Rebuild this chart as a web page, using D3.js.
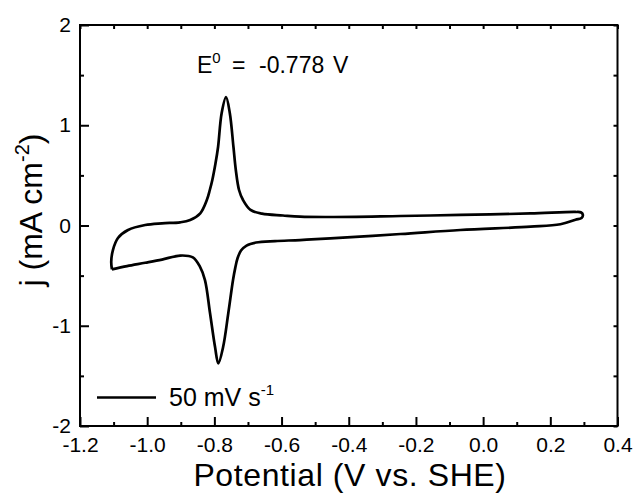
<!DOCTYPE html>
<html>
<head>
<meta charset="utf-8">
<script src="https://cdn.jsdelivr.net/npm/d3@7"></script>
<style>
  html, body { margin: 0; padding: 0; background: #fff; }
  svg { display: block; font-family: "Liberation Sans", Arial, sans-serif; }
</style>
</head>
<body>
<svg id="chart" width="635" height="493"></svg>
<script>
// Cyclic voltammogram, 50 mV/s scan
// Forward (anodic) sweep, from the negative vertex to the positive vertex
const anodicV = [-1.105, -1.107, -1.102, -1.087, -1.057, -1.006, -0.956, -0.902, -0.872, -0.842,
                 -0.8225, -0.8136, -0.8061, -0.7966, -0.7889, -0.7784, -0.7653, -0.754, -0.7433, -0.7362,
                 -0.7266, -0.7147, -0.6924, -0.6582, -0.5957, -0.545, -0.455, -0.246, -0.068, 0.141,
                 0.275, 0.292, 0.297];
const anodicJ = [-0.437, -0.36, -0.245, -0.125, -0.045, 0.005, 0.022, 0.032, 0.055, 0.122,
                 0.254, 0.354, 0.454, 0.62, 0.786, 1.12, 1.28, 1.12, 0.786, 0.554,
                 0.354, 0.254, 0.155, 0.118, 0.1, 0.088, 0.085, 0.095, 0.105, 0.12,
                 0.135, 0.13, 0.105];
// Reverse (cathodic) sweep, back to the negative vertex
const cathodicV = [0.293, 0.275, 0.23, 0.141, -0.068, -0.246, -0.455, -0.545, -0.6195, -0.676,
                   -0.7043, -0.7207, -0.7308, -0.7377, -0.7445, -0.7585, -0.774, -0.7883, -0.798, -0.813,
                   -0.828, -0.843, -0.864, -0.902, -0.956, -1.006, -1.06, -1.105];
const cathodicJ = [0.075, 0.057, 0.012, -0.012, -0.045, -0.085, -0.128, -0.145, -0.155, -0.17,
                   -0.2, -0.25, -0.324, -0.42, -0.544, -0.873, -1.212, -1.375, -1.212, -0.873,
                   -0.544, -0.411, -0.318, -0.30, -0.34, -0.372, -0.405, -0.437];

const xTicks = [-1.2, -1.0, -0.8, -0.6, -0.4, -0.2, 0.0, 0.2, 0.4];
const xTickLabels = ["-1.2", "-1.0", "-0.8", "-0.6", "-0.4", "-0.2", "0.0", "0.2", "0.4"];
const xMinorTicks = [-1.1, -0.9, -0.7, -0.5, -0.3, -0.1, 0.1, 0.3];
const yTicks = [2, 1, 0, -1, -2];
const yTickLabels = ["2", "1", "0", "-1", "-2"];
const yMinorTicks = [1.5, 0.5, -0.5, -1.5];

const svg = d3.select("#chart");
const plotLeft = 80, plotRight = 617.5, plotTop = 25, plotBottom = 426;

const x = d3.scaleLinear().domain([-1.2, 0.4]).range([plotLeft, plotRight]);
const y = d3.scaleLinear().domain([-2, 2]).range([plotBottom, plotTop]);

const tickFont = 21;

function styleAxis(g) {
  g.select(".domain").remove();
  g.selectAll(".tick line").attr("stroke", "#000").attr("stroke-width", 2);
  g.selectAll(".tick text").attr("fill", "#000").attr("font-size", tickFont)
    .attr("font-family", "Liberation Sans, Arial, sans-serif");
}

// bottom axis: major + minor ticks pointing inward
svg.append("g").attr("transform", `translate(0,${plotBottom})`)
  .call(d3.axisBottom(x).tickValues(xTicks).tickSize(-9).tickPadding(11)
        .tickFormat((d, i) => xTickLabels[i]))
  .call(styleAxis);
svg.append("g").attr("transform", `translate(0,${plotBottom})`)
  .call(d3.axisBottom(x).tickValues(xMinorTicks).tickSize(-4).tickFormat(""))
  .call(styleAxis);

// left axis
svg.append("g").attr("transform", `translate(${plotLeft},0)`)
  .call(d3.axisLeft(y).tickValues(yTicks).tickSize(-9).tickPadding(9)
        .tickFormat((d, i) => yTickLabels[i]))
  .call(styleAxis);
svg.append("g").attr("transform", `translate(${plotLeft},0)`)
  .call(d3.axisLeft(y).tickValues(yMinorTicks).tickSize(-4).tickFormat(""))
  .call(styleAxis);

// top and right mirror ticks
svg.append("g").attr("transform", `translate(0,${plotTop})`)
  .call(d3.axisTop(x).tickValues(xTicks.concat(xMinorTicks)).tickSize(-4).tickFormat(""))
  .call(styleAxis);
svg.append("g").attr("transform", `translate(${plotRight},0)`)
  .call(d3.axisRight(y).tickValues(yTicks.concat(yMinorTicks)).tickSize(-4).tickFormat(""))
  .call(styleAxis);

// frame
svg.append("rect")
  .attr("x", plotLeft).attr("y", plotTop)
  .attr("width", plotRight - plotLeft).attr("height", plotBottom - plotTop)
  .attr("fill", "none").attr("stroke", "#000").attr("stroke-width", 2);

// the CV loop
const pts = anodicV.map((v, i) => [v, anodicJ[i]])
  .concat(cathodicV.map((v, i) => [v, cathodicJ[i]]));
const line = d3.line()
  .x(d => x(d[0])).y(d => y(d[1]))
  .curve(d3.curveCatmullRom.alpha(0.5));
svg.append("path")
  .attr("d", line(pts))
  .attr("fill", "none").attr("stroke", "#000")
  .attr("stroke-width", 2.7).attr("stroke-linejoin", "round");

// annotation
const ann = svg.append("text").attr("x", 197).attr("y", 73)
  .attr("font-size", 23).attr("fill", "#000");
ann.append("tspan").text("E");
ann.append("tspan").attr("dy", -10).attr("font-size", 15).text("0");
ann.append("tspan").attr("x", 232).attr("dy", 10).text("=");
ann.append("tspan").attr("x", 259).text("-0.778");
ann.append("tspan").attr("x", 333).text("V");

// legend
svg.append("line")
  .attr("x1", 97).attr("x2", 156).attr("y1", 397.5).attr("y2", 397.5)
  .attr("stroke", "#000").attr("stroke-width", 2.7);
const leg = svg.append("text").attr("x", 169).attr("y", 406)
  .attr("font-size", 25).attr("fill", "#000");
leg.append("tspan").text("50 mV s");
leg.append("tspan").attr("dy", -11).attr("font-size", 15).text("-1");

// axis titles
svg.append("text")
  .attr("x", 350).attr("y", 486)
  .attr("text-anchor", "middle").attr("font-size", 32)
  .attr("letter-spacing", 0.6).attr("fill", "#000")
  .text("Potential (V vs. SHE)");

const yt = svg.append("text")
  .attr("transform", `translate(42,210) rotate(-90)`)
  .attr("text-anchor", "middle").attr("font-size", 32).attr("fill", "#000");
yt.append("tspan").text("j (mA cm");
yt.append("tspan").attr("dy", -13).attr("font-size", 20).text("-2");
yt.append("tspan").attr("dy", 13).text(")");
</script>
</body>
</html>
